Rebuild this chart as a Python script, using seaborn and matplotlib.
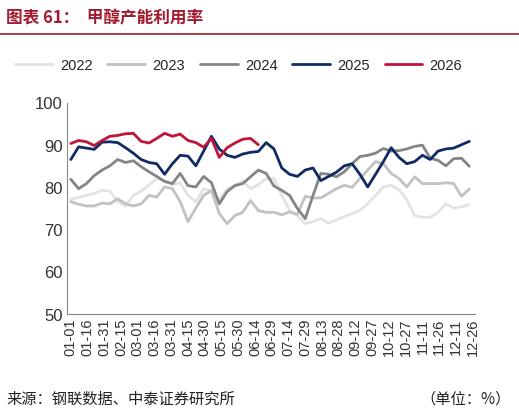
import matplotlib
matplotlib.use("Agg")
import matplotlib.pyplot as plt
import seaborn as sns
import numpy as np
import pandas as pd

# ---------------------------
# Data (weekly)
# ---------------------------
tick_labels = ["01-01", "01-16", "01-31", "02-15", "03-01", "03-16", "03-31", "04-15",
               "04-30", "05-15", "05-30", "06-14", "06-29", "07-14", "07-29", "08-13",
               "08-28", "09-12", "09-27", "10-12", "10-27", "11-11", "11-26", "12-11", "12-26"]

y2022 = [77, 77.5, 78, 78.5, 79.2, 79, 76.5, 75.5, 78, 79, 80.5, 82, 81.5, 80.5, 81, 78,
         76.5, 79.6, 79, 77, 79.5, 80.5, 81.4, 79.6, 80.5, 82, 82, 78, 74.5, 73.2, 71.3, 71.8,
         72.5, 71.4, 72.2, 73, 73.7, 74.5, 76, 78, 80, 80.4, 79.3, 77, 73.2, 72.8, 72.8, 74,
         76, 75, 75.3, 75.8]
y2023 = [76.5, 75.9, 75.5, 75.5, 76.2, 76, 77.2, 76, 75.5, 76, 78, 77.6, 80, 79.6, 76.5, 71.8,
         75, 78, 79.2, 73.7, 71.3, 73.2, 74, 76.8, 74.4, 74, 74, 73.4, 74.1, 73.5, 77.8, 77.4,
         77.4, 78.5, 79.6, 80.4, 79.9, 82, 84, 86, 85.5, 83.2, 82, 80, 82.4, 80.8, 80.8, 80.8,
         81, 80.8, 77.8, 79.5]
y2024 = [81.8, 79.6, 80.8, 82.7, 84, 85, 86.5, 85.8, 86.2, 84.8, 83.6, 82.5, 81.3, 80.8, 83.2, 80.3,
         80, 82.5, 81, 76, 78.9, 80.3, 80.8, 82.4, 84, 83.2, 80.2, 79.2, 78, 74.9, 72.5, 78,
         83.2, 83, 82.4, 83.6, 85.5, 87.2, 87.5, 88, 89.1, 88.5, 88.6, 89, 89.6, 89.9, 86.8, 86.3,
         85, 86.7, 86.8, 84.9]
y2025 = [86.5, 89.5, 89.2, 88.9, 90.6, 90.7, 90.5, 89.3, 88, 86.5, 85.8, 85.5, 83, 85.5, 87.5, 87.3,
         85, 88.5, 92, 89, 87.5, 87, 87.8, 88.2, 88.4, 90.5, 89, 84.5, 83, 82.5, 84, 84.5,
         81.5, 82.5, 83.5, 85, 85.5, 83, 80, 83, 86, 89.3, 87, 85.5, 86, 87.5, 86.5, 88.5,
         89, 89.2, 90, 90.8]
y2026 = [90.3, 91, 90.7, 89.8, 91, 92, 92.2, 92.6, 92.7, 90.8, 90.4, 91.5, 92.7, 92, 92.5, 91,
         90.5, 89.4, 91.5, 87, 89.3, 90.4, 91.3, 91.5, 90]

series = {"2022": y2022, "2023": y2023, "2024": y2024, "2025": y2025, "2026": y2026}
colors = {"2022": "#e3e3e3", "2023": "#c2c2c2", "2024": "#858585", "2025": "#102a63", "2026": "#c0153a"}

frames = []
for year, vals in series.items():
    frames.append(pd.DataFrame({"day": np.arange(len(vals)) * 7, "value": vals, "year": year}))
df = pd.concat(frames, ignore_index=True)

# ---------------------------
# Plot
# ---------------------------
sns.set_style("white")
plt.rcParams['font.family'] = ['Liberation Sans', 'Noto Sans CJK SC', 'DejaVu Sans']
cjk = ['Noto Sans CJK SC', 'DejaVu Sans']

fig = plt.figure(figsize=(5.19, 4.14), dpi=100)
ax = fig.add_axes([0.13, 0.24, 0.785, 0.51])

sns.lineplot(data=df, x="day", y="value", hue="year", palette=colors, linewidth=2, ax=ax)

ax.set_ylim(50, 100)
ax.set_yticks(range(50, 101, 10))
ax.set_xlim(-3, 362)
ax.set_xticks(np.arange(len(tick_labels)) * 15)
ax.set_xticklabels(tick_labels, rotation=90, fontsize=10.5, color="#333333")
ax.tick_params(axis="y", labelsize=12, colors="#333333", length=0)
ax.tick_params(axis="x", length=0, pad=3)
ax.set_xlabel("")
ax.set_ylabel("")
for s in ["top", "right"]:
    ax.spines[s].set_visible(False)
ax.spines["left"].set_color("#888888")
ax.spines["bottom"].set_color("#888888")

ax.legend(loc="lower center", bbox_to_anchor=(0.42, 1.08), ncol=5, frameon=False,
          fontsize=10.5, handlelength=2.6, columnspacing=1.0, handletextpad=0.5)

# Title and footer
fig.text(0.012, 0.955, "图表 61：  甲醇产能利用率", fontsize=12, fontweight="bold",
         fontstyle="italic", color="#a31a2e", va="center", family=cjk)
fig.add_artist(plt.Line2D([0.0, 1.0], [0.915, 0.915], color="#a31a2e", linewidth=1.2))
fig.text(0.012, 0.035, "来源：钢联数据、中泰证券研究所", fontsize=11, color="#222222",
         va="center", family=cjk)
fig.text(0.985, 0.035, "（单位：%）", fontsize=11, color="#222222", va="center", ha="right",
         family=cjk)

fig.savefig("out.png", dpi=100)
